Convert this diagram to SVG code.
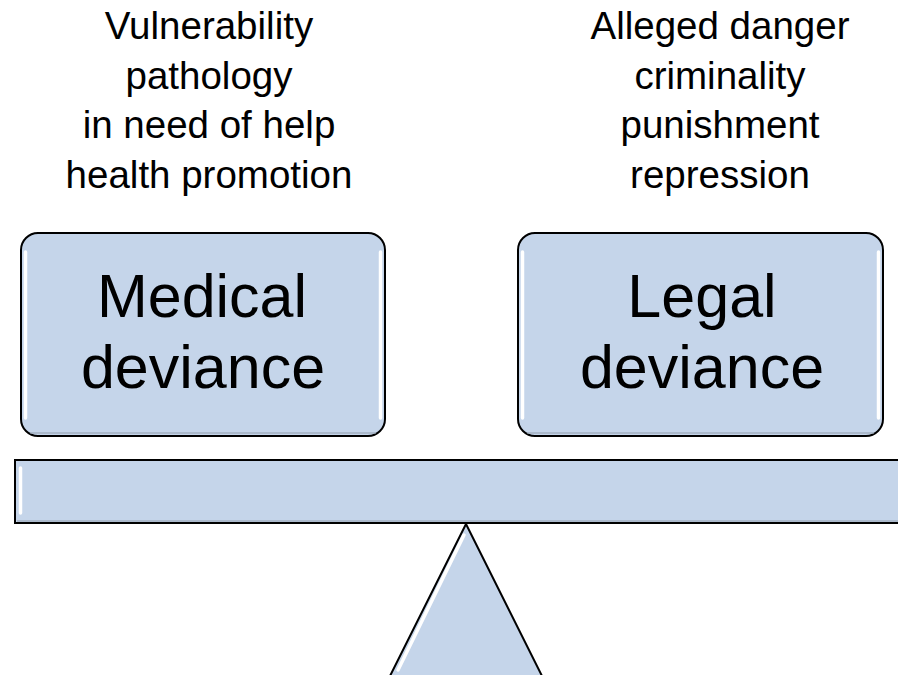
<svg xmlns="http://www.w3.org/2000/svg" width="898" height="675" viewBox="0 0 898 675">
<style>
.shape{fill:#c5d5ea;stroke:#000;stroke-width:2}
.hl{fill:none;stroke:#fff;stroke-width:3.5;stroke-linecap:round}
.sh{fill:none;stroke:#9aa6b6;stroke-width:2;opacity:0.6}
.lbl{font-family:"Liberation Sans",Arial,sans-serif;font-size:38.5px;fill:#000;text-anchor:middle}
.box{font-family:"Liberation Sans",Arial,sans-serif;font-size:61px;fill:#000;text-anchor:middle}
</style>
<rect width="898" height="675" fill="#fff"/>
<g id="left-labels">
<text class="lbl" x="209" y="39">Vulnerability</text>
<text class="lbl" x="209" y="89">pathology</text>
<text class="lbl" x="209" y="138">in need of help</text>
<text class="lbl" x="209" y="188">health promotion</text>
</g>
<g id="right-labels">
<text class="lbl" x="720" y="39">Alleged danger</text>
<text class="lbl" x="720" y="89">criminality</text>
<text class="lbl" x="720" y="138">punishment</text>
<text class="lbl" x="720" y="188">repression</text>
</g>
<g id="medical">
<rect class="shape" x="21" y="233" width="364" height="203" rx="17"/>
<path class="sh" d="M30 433 H376"/>
<path class="hl" d="M25.5 252 V418"/>
<path class="hl" d="M380.5 252 V418"/>
<text class="box" x="202" y="317">Medical</text>
<text class="box" x="203" y="388">deviance</text>
</g>
<g id="legal">
<rect class="shape" x="518" y="233" width="365" height="203" rx="17"/>
<path class="sh" d="M527 433 H874"/>
<path class="hl" d="M522.5 252 V418"/>
<path class="hl" d="M878.5 252 V418"/>
<text class="box" x="702" y="317">Legal</text>
<text class="box" x="702" y="388">deviance</text>
</g>
<g id="beam">
<rect class="shape" x="15" y="460" width="900" height="63"/>
<path class="sh" d="M17 521 H898"/>
<path class="hl" d="M20.5 468 V513"/>
</g>
<g id="fulcrum">
<polygon class="shape" points="466,524 389,678 543,678"/>
<path class="hl" d="M464 535 L398 670"/>
</g>
</svg>
